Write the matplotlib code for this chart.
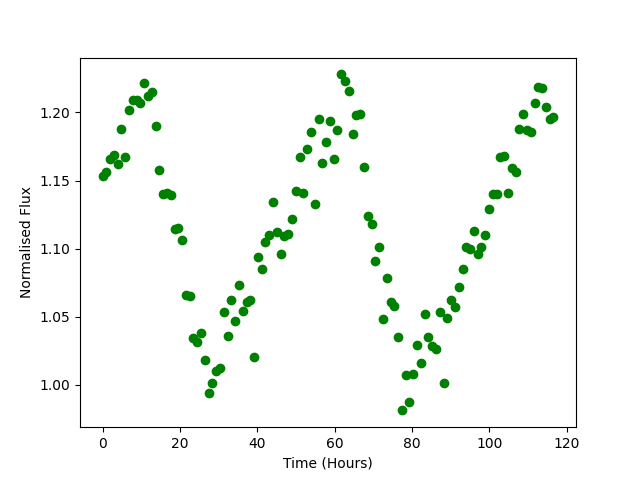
import numpy as np
from matplotlib import pyplot as plt

# sampling cadence of the light curve, in hours
cadence = 0.98

flux = [1.153, 1.156, 1.166, 1.169, 1.162, 1.188, 1.167, 1.202, 1.209, 1.209,
        1.207, 1.222, 1.212, 1.215, 1.190, 1.158, 1.140, 1.141, 1.139, 1.114,
        1.115, 1.106, 1.066, 1.065, 1.034, 1.031, 1.038, 1.018, 0.994, 1.001,
        1.010, 1.012, 1.053, 1.036, 1.062, 1.047, 1.073, 1.054, 1.061, 1.062,
        1.020, 1.094, 1.085, 1.105, 1.110, 1.134, 1.112, 1.096, 1.109, 1.111,
        1.122, 1.142, 1.167, 1.141, 1.173, 1.186, 1.133, 1.195, 1.163, 1.178,
        1.194, 1.166, 1.187, 1.228, 1.223, 1.216, 1.184, 1.198, 1.199, 1.160,
        1.124, 1.118, 1.091, 1.101, 1.048, 1.078, 1.061, 1.058, 1.035, 0.981,
        1.007, 0.987, 1.008, 1.029, 1.016, 1.052, 1.035, 1.028, 1.026, 1.053,
        1.001, 1.049, 1.062, 1.057, 1.072, 1.085, 1.101, 1.100, 1.113, 1.096,
        1.101, 1.110, 1.129, 1.140, 1.140, 1.167, 1.168, 1.141, 1.159, 1.156,
        1.188, 1.199, 1.187, 1.186, 1.207, 1.219, 1.218, 1.204, 1.195, 1.197]

time = np.arange(len(flux)) * cadence

plt.figure(figsize=(6.4, 4.8), dpi=100)
plt.plot(time, flux, 'go')
plt.xlabel('Time (Hours)')
plt.ylabel('Normalised Flux')
plt.savefig('out.png')
